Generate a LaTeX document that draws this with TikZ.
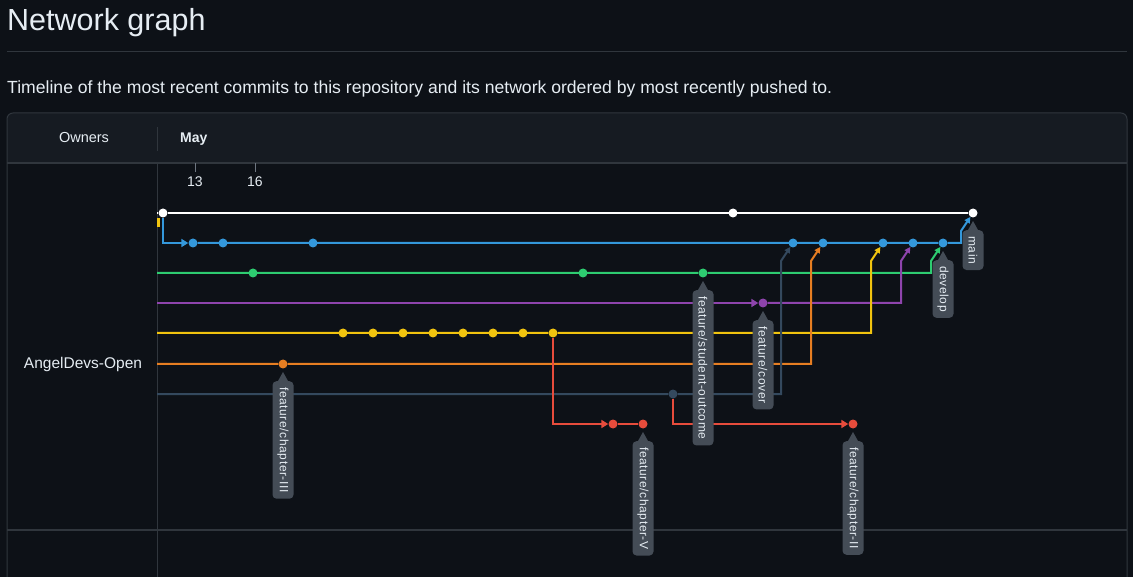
\documentclass[tikz,border=0pt]{standalone}
\usepackage{fontspec}
\setmainfont{Liberation Sans}
\newfontfamily\tagfont[LetterSpace=5]{Liberation Sans}
\usetikzlibrary{positioning,calc,arrows.meta}

\definecolor{pagebg}{HTML}{0D1117}
\definecolor{headbg}{HTML}{161B22}
\definecolor{rule}{HTML}{30363D}
\definecolor{txt}{HTML}{E6EDF3}
\definecolor{tickgrey}{HTML}{6E7681}
\definecolor{tagbg}{HTML}{444C56}
\definecolor{cwhite}{HTML}{FFFFFF}
\definecolor{cblue}{HTML}{3498DB}
\definecolor{cgreen}{HTML}{2ECC71}
\definecolor{cpurple}{HTML}{8E44AD}
\definecolor{cyellow}{HTML}{F1C40F}
\definecolor{corange}{HTML}{E67E22}
\definecolor{cslate}{HTML}{34495E}
\definecolor{cred}{HTML}{E74C3C}

\tikzset{
  commit/.style={circle,fill=#1,inner sep=0pt,minimum size=9pt},
  branchline/.style={draw=#1,line width=2pt},
  headtip/.style={-{Triangle[length=7pt,width=8pt]}},
  mergetip/.style={-{Triangle[length=6pt,width=6pt]}},
  reftag/.style={rotate=-90,anchor=west,fill=tagbg,text=txt,rounded corners=4pt,minimum height=21pt,inner xsep=6pt,inner ysep=0pt,font=\tagfont\fontsize{12}{14}\selectfont},
  daytick/.style={draw=tickgrey,line width=1pt},
}

\begin{document}
\begin{tikzpicture}[x=1pt,y=-1pt]
	\fill[pagebg] (0,0) rectangle (1133,577);
	\useasboundingbox (0,0) rectangle (1133,577);
	\node[anchor=base west,inner sep=0pt,text=txt,font=\fontsize{30.5}{34}\selectfont] (title) at (7,31) {Network graph};
	\draw[rule,line width=1pt] (7,52) -- (1127,52);
	\node[anchor=base west,inner sep=0pt,text=txt,font=\fontsize{17.6}{20}\selectfont] (subtitle) at (7,94) {Timeline of the most recent commits to this repository and its network ordered by most recently pushed to.};
	\fill[headbg] (7,163) [rounded corners=6pt] -- (7,113) -- (1127,113) [sharp corners] -- (1127,163) -- cycle;
	\draw[rule,line width=1pt] (7,577) [rounded corners=6pt] -- (7,113) -- (1127,113) [sharp corners] -- (1127,577);
	\draw[rule,line width=1.5pt] (7,163) -- (1127,163) (7,530) -- (1127,530);
	\draw[rule,line width=1pt] (157,127) -- (157,151) (157,163) -- (157,577);
	\node[text=txt,font=\fontsize{14.5}{16}\selectfont] (owners) at (84,138) {Owners};
	\node[anchor=west,inner sep=0pt,text=txt,font=\bfseries\fontsize{14}{16}\selectfont] (month) at (180,139) {May};
	\draw[daytick] (195,163) -- (195,172) (255,163) -- (255,172);
	\node[text=txt,font=\fontsize{14}{16}\selectfont] (d13) at (195,182) {13};
	\node[text=txt,font=\fontsize{14}{16}\selectfont] (d16) at (255,182) {16};
	\node[text=txt,font=\fontsize{15.5}{18}\selectfont] (owner) at (83,364) {AngelDevs-Open};
	\fill[cyellow] (157,218) rectangle (160,227);

	\coordinate (wbase) at (157,213);
	\coordinate (gbase) at (157,273);
	\coordinate (pbase) at (157,303);
	\coordinate (ybase) at (157,333);
	\coordinate (obase) at (157,364);
	\coordinate (sbase) at (157,394);

	\foreach \n/\x in {1/163,2/733,3/973} \node[commit=cwhite] (w\n) at (\x,213) {};
	\foreach \n/\x in {1/193,2/223,3/313,4/793,5/823,6/883,7/913,8/943} \node[commit=cblue] (b\n) at (\x,243) {};
	\foreach \n/\x in {1/253,2/583,3/703} \node[commit=cgreen] (g\n) at (\x,273) {};
	\node[commit=cpurple] (p1) at (763,303) {};
	\foreach \n in {1,...,8} \node[commit=cyellow] (y\n) at (313+30*\n,333) {};
	\node[commit=corange] (o1) at (283,364) {};
	\node[commit=cslate] (s1) at (673,394) {};
	\foreach \n/\x in {1/613,2/643,3/853} \node[commit=cred] (r\n) at (\x,424) {};

	\draw[branchline=cwhite] (wbase) -- (w1) (w1) -- (w3);
	\draw[branchline=cblue,headtip] (w1) |- (b1);
	\draw[branchline=cblue,mergetip] (b1) -- (b8) -- (961,243) -- (961,231) -- (w3);
	\draw[branchline=cgreen,mergetip] (gbase) -- (g3) -- (931,273) -- (931,261) -- (b8);
	\draw[branchline=cpurple,headtip] (pbase) -- (p1);
	\draw[branchline=cpurple,mergetip] (p1) -- (901,303) -- (901,261) -- (b7);
	\draw[branchline=cyellow,mergetip] (ybase) -- (y8) -- (871,333) -- (871,261) -- (b6);
	\draw[branchline=corange,mergetip] (obase) -- (o1) -- (811,364) -- (811,261) -- (b5);
	\draw[branchline=cslate,mergetip] (sbase) -- (s1) -- (781,394) -- (781,261) -- (b4);
	\draw[branchline=cred,headtip] (y8) |- (r1);
	\draw[branchline=cred] (r1) -- (r2);
	\draw[branchline=cred,headtip] (s1) |- (r3);

	\foreach \c/\t in {o1/{feature/chapter-III},g3/{feature/student-outcome},p1/{feature/cover},r2/{feature/chapter-V},r3/{feature/chapter-II},b8/{develop},w3/{main}}{
		\node[reftag] (t\c) at ($(\c)+(0,17)$) {\t};
		\fill[tagbg] ([xshift=-5pt]t\c.west) -- ($(\c)+(0,8)$) -- ([xshift=5pt]t\c.west) -- cycle;
	}
\end{tikzpicture}
\end{document}
